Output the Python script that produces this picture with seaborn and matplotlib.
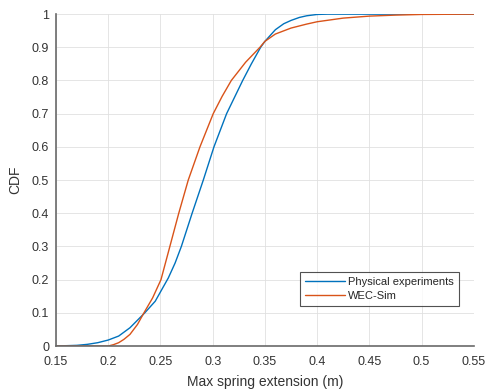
import matplotlib
matplotlib.use("Agg")
import matplotlib.pyplot as plt
import seaborn as sns
import pandas as pd

# Physical experiments CDF
phys_x = [0.15, 0.16, 0.17, 0.18, 0.19, 0.20, 0.21, 0.2208, 0.235, 0.245, 0.25,
          0.2575, 0.264, 0.270, 0.2803, 0.291, 0.3012, 0.3133, 0.3287, 0.337,
          0.3459, 0.35, 0.36, 0.368, 0.375, 0.383, 0.39, 0.40, 0.41, 0.55]
phys_y = [0.0, 0.001, 0.002, 0.005, 0.010, 0.018, 0.030, 0.055, 0.10, 0.135, 0.163,
          0.205, 0.25, 0.30, 0.40, 0.50, 0.60, 0.70, 0.80, 0.85,
          0.90, 0.918, 0.953, 0.971, 0.981, 0.990, 0.995, 0.999, 1.0, 1.0]

# WEC-Sim CDF
wec_x = [0.15, 0.20, 0.205, 0.21, 0.215, 0.2208, 0.228, 0.2342, 0.2425, 0.2505,
         0.259, 0.2675, 0.2766, 0.2878, 0.3005, 0.309, 0.3178, 0.3315, 0.3452,
         0.35, 0.36, 0.375, 0.39, 0.40, 0.425, 0.45, 0.475, 0.50, 0.55]
wec_y = [0.0, 0.0, 0.004, 0.010, 0.020, 0.035, 0.065, 0.10, 0.145, 0.20,
         0.30, 0.40, 0.50, 0.60, 0.70, 0.752, 0.80, 0.855, 0.90,
         0.918, 0.940, 0.958, 0.970, 0.977, 0.988, 0.994, 0.997, 0.999, 1.0]

series_names = ["Physical experiments", "WEC-Sim"]
colors = ["#0072BD", "#D95319"]

x_ticks = [0.15, 0.2, 0.25, 0.3, 0.35, 0.4, 0.45, 0.5, 0.55]
x_tick_labels = ["0.15", "0.2", "0.25", "0.3", "0.35", "0.4", "0.45", "0.5", "0.55"]
y_ticks = [0, 0.1, 0.2, 0.3, 0.4, 0.5, 0.6, 0.7, 0.8, 0.9, 1.0]
y_tick_labels = ["0", "0.1", "0.2", "0.3", "0.4", "0.5", "0.6", "0.7", "0.8", "0.9", "1"]

df = pd.concat([
    pd.DataFrame({"x": phys_x, "y": phys_y, "series": series_names[0]}),
    pd.DataFrame({"x": wec_x, "y": wec_y, "series": series_names[1]}),
], ignore_index=True)

sns.set_style("white")
plt.rcParams["font.family"] = ["Liberation Sans", "DejaVu Sans"]

fig = plt.figure(figsize=(4.87, 3.90), dpi=100)
ax = fig.add_axes([0.115, 0.1128, 0.858, 0.851])

sns.lineplot(data=df, x="x", y="y", hue="series", palette=colors,
             sort=False, estimator=None, linewidth=1.0, ax=ax)

ax.set_xlim(0.15, 0.55)
ax.set_ylim(0, 1)
ax.set_xticks(x_ticks)
ax.set_xticklabels(x_tick_labels)
ax.set_yticks(y_ticks)
ax.set_yticklabels(y_tick_labels)

ax.grid(True, color="#e0e0e0", linewidth=0.6)
ax.set_axisbelow(True)
for s in ["top", "right"]:
    ax.spines[s].set_visible(False)
for s in ["left", "bottom"]:
    ax.spines[s].set_color("#6a6a6a")
    ax.spines[s].set_linewidth(1.2)

ax.tick_params(axis="both", direction="in", length=3, width=0.8,
               color="#262626", labelsize=9, labelcolor="#333333")
ax.tick_params(axis="x", pad=7)
ax.tick_params(axis="y", pad=5)

ax.set_xlabel("Max spring extension (m)", fontsize=10, color="#333333", labelpad=5)
ax.set_ylabel("CDF", fontsize=10, color="#333333", labelpad=7)

handles, labels = ax.get_legend_handles_labels()
leg = ax.legend(handles, labels, loc="lower right", bbox_to_anchor=(0.964, 0.12),
                fontsize=8, frameon=True, fancybox=False, borderpad=0.45,
                handlelength=3.6, handletextpad=0.3, labelspacing=0.4,
                borderaxespad=0)
leg.get_frame().set_edgecolor("#262626")
leg.get_frame().set_linewidth(0.8)
for t in leg.get_texts():
    t.set_color("#262626")

fig.savefig("out.png", dpi=100)
